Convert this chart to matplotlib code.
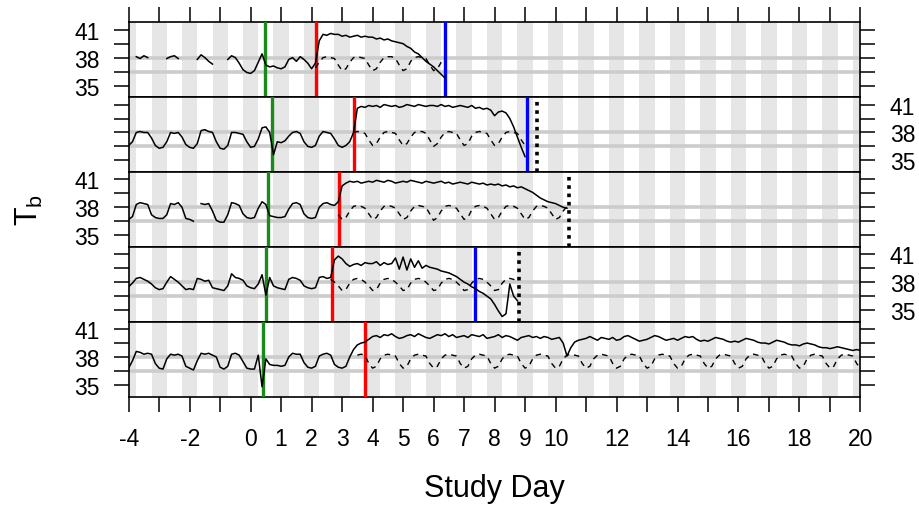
import numpy as np
import matplotlib
matplotlib.use("Agg")
import matplotlib.pyplot as plt

nan = np.nan

# ------------------------------
# Body temperature, 8 samples per day starting at day -4
# ------------------------------
T0 = -4.0
STEP = 0.125

TB_1 = [
    nan, nan, 38.1, 37.9, 38.2, 38.0, nan, nan,    # -4
    nan, nan, 37.9, 38.1, 38.2, 37.9, nan, nan,    # -3
    nan, nan, 37.8, 38.3, 38.0, 37.6, 37.3, nan,   # -2
    nan, nan, 37.8, 38.2, 38.0, 37.4, 36.7, 36.4,  # -1
    36.3, 36.6, 37.5, 38.4, 37.2, 37.0, 37.1, 36.9,  # 0
    36.8, 37.0, 37.8, 38.0, 37.6, 38.1, 37.8, 37.4,  # 1
    36.8, 37.4, 39.8, 40.5, 40.4, 40.6, 40.5, 40.5,  # 2
    40.3, 40.4, 40.2, 40.3, 40.4, 40.2, 40.3, 40.2,  # 3
    40.2, 40.0, 40.1, 39.9, 40.0, 39.8, 39.7, 39.6,  # 4
    39.5, 39.2, 39.0, 38.6, 38.4, 38.0, 37.6, 37.3,  # 5
    37.0, 36.6, 36.2, 35.8,                          # 6
]
TB_2 = [
    36.6, 37.0, 38.0, 38.1, 38.0, 38.0, 37.4, 36.6,  # -4
    36.3, 36.4, 37.0, 38.0, 37.9, 38.0, 37.5, 36.7,  # -3
    36.4, 36.3, 36.8, 38.2, 38.3, 38.1, 38.0, 37.0,  # -2
    36.3, 36.2, 36.6, 38.0, 38.0, 37.9, 37.8, 37.0,  # -1
    36.4, 36.5, 37.3, 38.5, 38.6, 38.0, 35.6, 37.0,  # 0
    36.9, 37.1, 37.6, 38.0, 38.1, 37.9, 37.0, 36.5,  # 1
    36.4, 36.6, 37.6, 38.1, 38.0, 37.9, 37.3, 36.6,  # 2
    36.4, 36.6, 37.0, 38.0, 40.6, 40.8, 40.7, 40.9,  # 3
    40.8, 40.9, 40.7, 41.0, 40.9, 40.8, 40.9, 40.7,  # 4
    40.8, 41.0, 40.9, 40.8, 41.0, 40.9, 40.8, 40.9,  # 5
    40.9, 40.8, 41.0, 40.8, 40.9, 40.7, 40.8, 40.9,  # 6
    40.8, 40.7, 40.9, 40.6, 40.7, 40.5, 40.6, 40.4,  # 7
    39.8, 40.2, 40.3, 40.1, 39.5, 38.6, 37.5, 36.4,  # 8
    35.4,                                            # 9
]
TB_3 = [
    36.7, 37.0, 38.3, 38.5, 38.4, 38.3, 37.2, 36.9,  # -4
    36.8, 36.8, 37.2, 38.4, 38.3, 38.5, 38.0, 36.8,  # -3
    36.7, 36.5, nan, 38.4, 38.3, 38.4, 37.6, 36.6,   # -2
    36.4, 36.4, 37.2, 38.5, 38.4, 38.2, 37.3, 36.9,  # -1
    36.8, 36.9, 37.9, 38.6, 38.3, 37.1, 37.0, 36.9,  # 0
    36.9, 37.0, 37.8, 38.4, 38.5, 38.3, 37.3, 36.9,  # 1
    36.8, 36.9, 38.0, 38.4, 38.5, 38.3, 38.2, 38.6,  # 2
    40.3, 40.6, 40.8, 40.7, 40.8, 40.6, 40.7, 40.8,  # 3
    40.7, 40.9, 40.8, 40.7, 40.9, 40.8, 40.6, 40.7,  # 4
    40.8, 40.7, 40.9, 40.8, 40.7, 40.6, 40.8, 40.7,  # 5
    40.6, 40.7, 40.8, 40.6, 40.7, 40.5, 40.6, 40.7,  # 6
    40.6, 40.5, 40.7, 40.6, 40.5, 40.6, 40.4, 40.5,  # 7
    40.4, 40.5, 40.3, 40.4, 40.2, 40.3, 40.1, 40.2,  # 8
    40.0, 39.8, 39.6, 39.3, 39.0, 38.8, 38.6, 38.5,  # 9
    38.4, 38.2, 38.0, 37.9,                          # 10
]
TB_4 = [
    37.5, 37.9, 38.4, 38.5, 38.3, 38.1, 37.8, 37.4,  # -4
    37.2, 37.3, 38.0, 38.6, 38.3, 38.0, 37.6, 37.2,  # -3
    37.3, 37.2, 38.4, 38.3, 38.1, 38.2, 37.4, 37.3,  # -2
    37.2, 37.1, 37.6, 38.9, 38.5, 38.4, 38.2, 37.6,  # -1
    37.4, 37.3, 37.8, 38.8, 36.6, 38.5, 37.6, 37.4,  # 0
    37.3, 37.2, 38.3, 38.5, 38.4, 38.2, 37.6, 37.4,  # 1
    37.3, 37.4, 38.5, 38.6, 38.4, 38.5, 40.4, 40.8,  # 2
    40.5, 40.0, 39.7, 39.9, 40.0, 39.8, 40.1, 40.0,  # 3
    40.0, 40.2, 39.8, 40.1, 39.9, 40.0, 40.6, 39.4,  # 4
    40.7, 39.3, 40.5, 39.6, 40.3, 39.5, 39.8, 39.6,  # 5
    39.5, 39.4, 39.2, 39.1, 39.0, 38.8, 38.6, 38.3,  # 6
    38.0, 37.8, 37.5, 37.3, 37.0, 36.8, 36.5, 36.2,  # 7
    35.6, 34.9, 34.3, 34.6, 37.8, 36.5, 36.0,        # 8
]
TB_5 = [
    36.8, 37.6, 38.6, 38.5, 38.3, 38.4, 38.3, 37.3,  # -4
    36.8, 36.7, 37.8, 38.3, 38.2, 38.3, 38.1, 37.0,  # -3
    36.8, 36.6, 37.6, 38.4, 38.3, 38.4, 38.2, 38.0,  # -2
    36.9, 36.7, 37.0, 38.3, 38.4, 38.2, 37.5, 36.8,  # -1
    36.7, 36.7, 38.2, 34.8, 37.8, 37.2, 37.1, 37.1,  # 0
    37.0, 37.1, 38.0, 38.4, 38.3, 38.3, 37.4, 36.9,  # 1
    36.8, 37.0, 38.1, 38.3, 38.4, 38.2, 37.2, 36.9,  # 2
    36.8, 37.0, 38.0, 38.8, 39.3, 39.5, 39.6, 39.9,  # 3
    40.2, 40.3, 40.1, 40.4, 40.3, 40.5, 40.2, 40.0,  # 4
    40.1, 40.3, 40.4, 40.2, 40.5, 40.3, 40.1, 40.0,  # 5
    40.2, 40.4, 40.3, 40.5, 40.2, 40.4, 40.1, 40.2,  # 6
    40.3, 40.1, 40.4, 40.3, 40.2, 40.4, 40.0, 40.1,  # 7
    40.2, 40.4, 40.1, 40.3, 40.2, 40.0, 39.8, 40.1,  # 8
    40.2, 40.3, 40.1, 40.2, 40.0, 40.2, 40.1, 39.9,  # 9
    40.0, 40.1, 39.5, 38.1, 39.0, 39.6, 39.8, 39.9,  # 10
    40.0, 40.2, 40.0, 39.8, 40.1, 40.0, 39.9, 40.1,  # 11
    39.8, 39.9, 40.2, 40.3, 40.1, 39.9, 39.7, 39.8,  # 12
    39.9, 40.1, 40.3, 40.2, 40.0, 39.8, 39.9, 40.0,  # 13
    39.8, 40.0, 40.2, 40.1, 40.2, 39.9, 39.7, 39.8,  # 14
    39.7, 39.9, 40.1, 40.0, 39.9, 39.7, 39.6, 39.7,  # 15
    39.6, 39.8, 40.0, 39.9, 39.8, 39.6, 39.5, 39.5,  # 16
    39.4, 39.6, 39.8, 39.7, 39.6, 39.4, 39.3, 39.3,  # 17
    39.2, 39.4, 39.5, 39.4, 39.3, 39.1, 39.0, 39.0,  # 18
    38.9, 39.0, 39.1, 39.0, 38.9, 38.8, 38.7, 38.8,  # 19
    38.7,                                            # 20
]

# ------------------------------
# Predicted baseline (dashed), 8 samples per day
# ------------------------------
BASE_START = [2.125, 3.375, 2.875, 2.625, 3.5]
BASE_1 = [
    36.9, 37.5, 38.0, 38.1, 38.0, 37.9, 37.2,
    36.6, 36.8, 37.5, 38.0, 38.1, 38.0, 37.9, 37.2,
    36.6, 36.8, 37.5, 38.0, 38.1, 38.1, 37.9, 37.2,
    36.6, 36.8, 37.6, 38.0, 38.1, 38.0, 37.9, 37.2,
    36.6, 36.8, 37.5, 38.0,
]
BASE_2 = [
    38.0, 38.1, 38.0, 37.9, 37.2,
    36.6, 36.8, 37.5, 38.0, 38.1, 38.0, 37.9, 37.2,
    36.6, 36.8, 37.5, 38.0, 38.1, 38.1, 37.9, 37.2,
    36.5, 36.8, 37.5, 38.0, 38.1, 38.0, 37.9, 37.2,
    36.6, 36.8, 37.6, 38.0, 38.1, 38.0, 37.9, 37.2,
    36.6, 36.8, 37.5, 38.0, 38.1, 38.0, 37.9, 37.2,
    36.6,
]
BASE_3 = [
    37.2,
    36.7, 36.9, 37.6, 38.1, 38.2, 38.1, 37.9, 37.3,
    36.7, 36.9, 37.6, 38.1, 38.2, 38.1, 37.9, 37.3,
    36.7, 36.9, 37.6, 38.1, 38.2, 38.1, 38.0, 37.3,
    36.6, 36.9, 37.6, 38.1, 38.2, 38.1, 37.9, 37.3,
    36.7, 36.9, 37.7, 38.1, 38.2, 38.1, 37.9, 37.3,
    36.7, 36.9, 37.6, 38.1, 38.2, 38.1, 37.9, 37.3,
    36.7, 36.9, 37.6, 38.1, 38.2, 38.1, 37.9, 37.3,
    36.7, 36.9, 37.6, 38.1,
]
BASE_4 = [
    38.3, 38.0, 37.6,
    37.1, 37.2, 37.9, 38.3, 38.4, 38.3, 38.0, 37.6,
    37.1, 37.2, 37.9, 38.3, 38.4, 38.3, 38.0, 37.6,
    37.1, 37.2, 37.9, 38.3, 38.4, 38.3, 38.0, 37.6,
    37.1, 37.2, 37.9, 38.3, 38.4, 38.3, 38.0, 37.6,
    37.1, 37.2, 37.9, 38.3, 38.4, 38.3, 38.0, 37.6,
    37.1, 37.2, 37.9, 38.3, 38.4, 38.3, 38.0,
]
BASE_5 = [
    38.2, 38.3, 38.2, 37.3,
    36.8, 37.0, 37.8, 38.2, 38.3, 38.2, 38.1, 37.3,  # 4
    36.8, 37.0, 37.8, 38.2, 38.3, 38.2, 38.1, 37.3,  # 5
    36.8, 37.0, 37.8, 38.2, 38.3, 38.2, 38.1, 37.3,  # 6
    36.8, 37.0, 37.8, 38.2, 38.3, 38.2, 38.1, 37.3,  # 7
    36.8, 37.0, 37.8, 38.2, 38.3, 38.2, 38.1, 37.3,  # 8
    36.8, 37.0, 37.8, 38.2, 38.3, 38.2, 38.1, 37.3,  # 9
    36.8, 37.0, 37.8, 38.2, 38.3, 38.2, 38.1, 37.3,  # 10
    36.8, 37.0, 37.8, 38.2, 38.3, 38.2, 38.1, 37.3,  # 11
    36.8, 37.0, 37.8, 38.2, 38.3, 38.2, 38.1, 37.3,  # 12
    36.8, 37.0, 37.8, 38.2, 38.3, 38.2, 38.1, 37.3,  # 13
    36.8, 37.0, 37.8, 38.2, 38.3, 38.2, 38.1, 37.3,  # 14
    36.8, 37.0, 37.8, 38.2, 38.3, 38.2, 38.1, 37.3,  # 15
    36.8, 37.0, 37.8, 38.2, 38.3, 38.2, 38.1, 37.3,  # 16
    36.8, 37.0, 37.8, 38.2, 38.3, 38.2, 38.1, 37.3,  # 17
    36.8, 37.0, 37.8, 38.2, 38.3, 38.2, 38.1, 37.3,  # 18
    36.8, 37.0, 37.8, 38.2, 38.3, 38.2, 38.1, 37.3,  # 19
    36.8,
]

TB = [TB_1, TB_2, TB_3, TB_4, TB_5]
BASE = [BASE_1, BASE_2, BASE_3, BASE_4, BASE_5]

# ------------------------------
# Event markers (study day) per animal
# ------------------------------
GREEN_DAY = [0.47, 0.69, 0.57, 0.49, 0.40]
RED_DAY = [2.15, 3.40, 2.89, 2.66, 3.76]
BLUE_DAY = [6.37, 9.07, None, 7.36, None]
DOT_DAY = [None, 9.40, 10.45, 8.80, None]

X_TICKS = list(range(-4, 21))
X_LABELS = ["-4", "", "-2", "", "0", "1", "2", "3", "4", "5", "6", "7", "8", "9",
            "10", "", "12", "", "14", "", "16", "", "18", "", "20"]
Y_TICKS = [35, 36.5, 38, 39.5, 41]
Y_LABELS = ["35", "", "38", "", "41"]
REF_LINES = [36.5, 38]

plt.rcParams['font.family'] = ['Liberation Sans', 'DejaVu Sans']
plt.rcParams['mathtext.fontset'] = 'custom'
plt.rcParams['mathtext.rm'] = 'Liberation Sans'
plt.rcParams['mathtext.it'] = 'Liberation Sans'

fig, axes = plt.subplots(5, 1, figsize=(9.19, 5.06), dpi=100, sharex=True)
fig.subplots_adjust(left=0.140, right=0.9363, top=0.954, bottom=0.2144, hspace=0)

for i, ax in enumerate(axes):
    # night bands
    for k in range(-4, 21):
        ax.axvspan(k - 0.25, k + 0.25, color="#e6e6e6", lw=0, zorder=0)
    for y in REF_LINES:
        ax.axhline(y, color="#cccccc", lw=2.6, zorder=1)

    t = T0 + STEP * np.arange(len(TB[i]))
    ax.plot(t, TB[i], color="black", lw=1.1, zorder=4)
    tb = BASE_START[i] + STEP * np.arange(len(BASE[i]))
    ax.plot(tb, BASE[i], color="black", lw=1.0, ls=(0, (4, 3.5)), zorder=4)

    ax.axvline(GREEN_DAY[i], color="#1a8a1a", lw=2.4, zorder=3)
    ax.axvline(RED_DAY[i], color="red", lw=2.4, zorder=3)
    if BLUE_DAY[i] is not None:
        ax.axvline(BLUE_DAY[i], color="blue", lw=2.4, zorder=3)
    if DOT_DAY[i] is not None:
        ax.axvline(DOT_DAY[i], color="black", lw=2.6, ls=(0, (1, 1.3)), zorder=5)

    ax.set_xlim(-4, 20)
    ax.set_ylim(33.75, 41.8)
    ax.set_yticks(Y_TICKS)
    ax.set_yticklabels(Y_LABELS)
    ax.set_xticks(X_TICKS)
    ax.set_xticklabels(X_LABELS)
    for sp in ax.spines.values():
        sp.set_linewidth(1.2)

    label_left = i % 2 == 0
    ax.tick_params(axis='y', direction='out', length=11, width=1.1, labelsize=16.5,
                   pad=10, left=True, right=True,
                   labelleft=label_left, labelright=not label_left)
    ax.tick_params(axis='x', direction='out', length=11, width=1.1, labelsize=16.5,
                   pad=11, top=(i == 0), bottom=(i == 4),
                   labeltop=False, labelbottom=(i == 4))

fig.text(0.032, 0.585, r"T$_\mathrm{b}$", rotation=90, fontsize=22,
         ha='center', va='center')
fig.text(0.538, 0.034, "Study Day", fontsize=22, ha='center', va='center')

fig.savefig("out.png", dpi=100)
